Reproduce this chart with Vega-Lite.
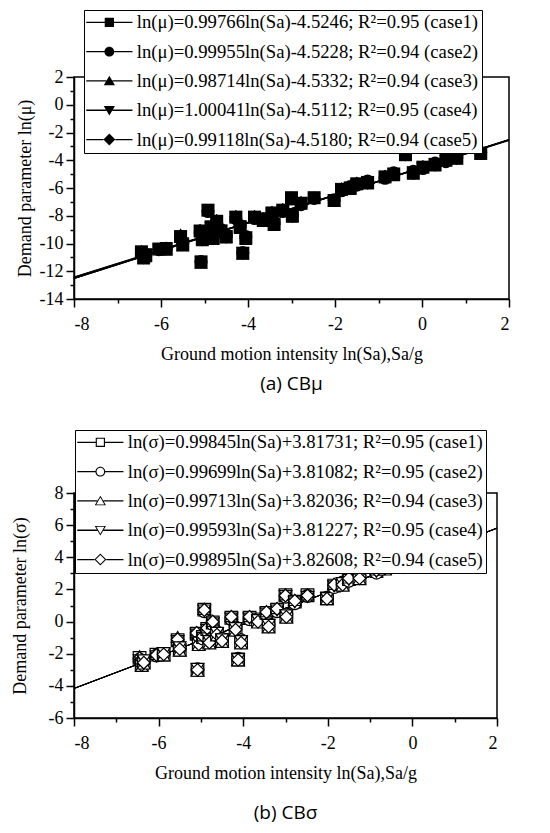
{
  "$schema": "https://vega.github.io/schema/vega-lite/v6.json",
  "background": "white",
  "padding": {"left": 10, "top": 8, "right": 5, "bottom": 5},
  "spacing": 33,
  "columns": 1,
  "align": "none",
  "config": {
    "view": {"stroke": "black", "strokeWidth": 1.5},
    "font": "Liberation Serif",
    "axis": {
      "domainColor": "black", "domainWidth": 1.5, "tickColor": "black", "tickWidth": 1.5,
      "labelColor": "black", "titleColor": "black", "labelFont": "Liberation Serif", "titleFont": "Liberation Serif",
      "labelFontSize": 18, "titleFontSize": 18, "titleFontWeight": "normal", "grid": false, "labelPadding": 3, "labelOverlap": false
    },
    "legend": {
      "labelFont": "Liberation Serif", "labelFontSize": 18.7, "labelColor": "black", "labelLimit": 600,
      "strokeColor": "black", "fillColor": "white", "padding": 3, "rowPadding": 9.3,
      "symbolSize": 196, "symbolOpacity": 1, "symbolStrokeWidth": 0, "symbolOffset": 13, "labelOffset": 18
    }
  },
  "datasets": {
    "fits": [
      {"case": "case1", "x": -8, "mu": -12.506, "sigma": -4.170},
      {"case": "case1", "x": 2, "mu": -2.529, "sigma": 5.814},
      {"case": "case2", "x": -8, "mu": -12.519, "sigma": -4.165},
      {"case": "case2", "x": 2, "mu": -2.524, "sigma": 5.805},
      {"case": "case3", "x": -8, "mu": -12.430, "sigma": -4.157},
      {"case": "case3", "x": 2, "mu": -2.559, "sigma": 5.815},
      {"case": "case4", "x": -8, "mu": -12.514, "sigma": -4.155},
      {"case": "case4", "x": 2, "mu": -2.510, "sigma": 5.804},
      {"case": "case5", "x": -8, "mu": -12.447, "sigma": -4.166},
      {"case": "case5", "x": 2, "mu": -2.536, "sigma": 5.824}
    ],
    "pts": [
      {"case":"case1","x":-6.45,"mu":-10.60,"sigma":-2.26},{"case":"case2","x":-6.45,"mu":-10.70,"sigma":-2.36},{"case":"case3","x":-6.45,"mu":-10.50,"sigma":-2.16},{"case":"case4","x":-6.45,"mu":-10.75,"sigma":-2.41},{"case":"case5","x":-6.45,"mu":-10.62,"sigma":-2.28},
      {"case":"case1","x":-6.40,"mu":-11.00,"sigma":-2.66},{"case":"case2","x":-6.40,"mu":-10.90,"sigma":-2.56},{"case":"case3","x":-6.40,"mu":-11.10,"sigma":-2.76},{"case":"case4","x":-6.40,"mu":-10.95,"sigma":-2.61},{"case":"case5","x":-6.40,"mu":-11.05,"sigma":-2.71},
      {"case":"case1","x":-6.35,"mu":-10.85,"sigma":-2.51},{"case":"case2","x":-6.35,"mu":-10.80,"sigma":-2.46},{"case":"case3","x":-6.35,"mu":-10.95,"sigma":-2.61},{"case":"case4","x":-6.35,"mu":-10.75,"sigma":-2.41},{"case":"case5","x":-6.35,"mu":-10.90,"sigma":-2.56},
      {"case":"case1","x":-6.05,"mu":-10.40,"sigma":-2.06},{"case":"case2","x":-6.05,"mu":-10.45,"sigma":-2.11},{"case":"case3","x":-6.05,"mu":-10.35,"sigma":-2.01},{"case":"case4","x":-6.05,"mu":-10.50,"sigma":-2.16},{"case":"case5","x":-6.05,"mu":-10.42,"sigma":-2.08},
      {"case":"case1","x":-5.88,"mu":-10.40,"sigma":-2.06},{"case":"case2","x":-5.88,"mu":-10.35,"sigma":-2.01},{"case":"case3","x":-5.88,"mu":-10.45,"sigma":-2.11},{"case":"case4","x":-5.88,"mu":-10.30,"sigma":-1.96},{"case":"case5","x":-5.88,"mu":-10.38,"sigma":-2.04},
      {"case":"case1","x":-5.55,"mu":-9.50,"sigma":-1.16},{"case":"case2","x":-5.55,"mu":-9.60,"sigma":-1.26},{"case":"case3","x":-5.55,"mu":-9.30,"sigma":-0.96},{"case":"case4","x":-5.55,"mu":-9.55,"sigma":-1.21},{"case":"case5","x":-5.55,"mu":-9.45,"sigma":-1.11},
      {"case":"case1","x":-5.50,"mu":-10.10,"sigma":-1.76},{"case":"case2","x":-5.50,"mu":-10.00,"sigma":-1.66},{"case":"case3","x":-5.50,"mu":-10.15,"sigma":-1.81},{"case":"case4","x":-5.50,"mu":-9.95,"sigma":-1.61},{"case":"case5","x":-5.50,"mu":-10.05,"sigma":-1.71},
      {"case":"case1","x":-5.08,"mu":-11.35,"sigma":-3.01},{"case":"case2","x":-5.08,"mu":-11.30,"sigma":-2.96},{"case":"case3","x":-5.08,"mu":-11.40,"sigma":-3.06},{"case":"case4","x":-5.08,"mu":-11.28,"sigma":-2.94},{"case":"case5","x":-5.08,"mu":-11.35,"sigma":-3.01},
      {"case":"case1","x":-5.10,"mu":-9.10,"sigma":-0.76},{"case":"case2","x":-5.10,"mu":-9.20,"sigma":-0.86},{"case":"case3","x":-5.10,"mu":-9.00,"sigma":-0.66},{"case":"case4","x":-5.10,"mu":-9.15,"sigma":-0.81},{"case":"case5","x":-5.10,"mu":-9.05,"sigma":-0.71},
      {"case":"case1","x":-5.05,"mu":-9.70,"sigma":-1.36},{"case":"case2","x":-5.05,"mu":-9.60,"sigma":-1.26},{"case":"case3","x":-5.05,"mu":-9.80,"sigma":-1.46},{"case":"case4","x":-5.05,"mu":-9.65,"sigma":-1.31},{"case":"case5","x":-5.05,"mu":-9.75,"sigma":-1.41},
      {"case":"case1","x":-4.92,"mu":-7.60,"sigma":0.74},{"case":"case2","x":-4.92,"mu":-7.70,"sigma":0.64},{"case":"case3","x":-4.92,"mu":-7.55,"sigma":0.79},{"case":"case4","x":-4.92,"mu":-7.65,"sigma":0.69},{"case":"case5","x":-4.92,"mu":-7.62,"sigma":0.72},
      {"case":"case1","x":-4.95,"mu":-9.30,"sigma":-0.96},{"case":"case2","x":-4.95,"mu":-9.40,"sigma":-1.06},{"case":"case3","x":-4.95,"mu":-9.20,"sigma":-0.86},{"case":"case4","x":-4.95,"mu":-9.35,"sigma":-1.01},{"case":"case5","x":-4.95,"mu":-9.25,"sigma":-0.91},
      {"case":"case1","x":-4.85,"mu":-8.80,"sigma":-0.46},{"case":"case2","x":-4.85,"mu":-8.90,"sigma":-0.56},{"case":"case3","x":-4.85,"mu":-8.70,"sigma":-0.36},{"case":"case4","x":-4.85,"mu":-8.85,"sigma":-0.51},{"case":"case5","x":-4.85,"mu":-8.75,"sigma":-0.41},
      {"case":"case1","x":-4.80,"mu":-9.60,"sigma":-1.26},{"case":"case2","x":-4.80,"mu":-9.50,"sigma":-1.16},{"case":"case3","x":-4.80,"mu":-9.70,"sigma":-1.36},{"case":"case4","x":-4.80,"mu":-9.55,"sigma":-1.21},{"case":"case5","x":-4.80,"mu":-9.65,"sigma":-1.31},
      {"case":"case1","x":-4.72,"mu":-8.40,"sigma":-0.06},{"case":"case2","x":-4.72,"mu":-8.50,"sigma":-0.16},{"case":"case3","x":-4.72,"mu":-8.30,"sigma":0.04},{"case":"case4","x":-4.72,"mu":-8.45,"sigma":-0.11},{"case":"case5","x":-4.72,"mu":-8.35,"sigma":-0.01},
      {"case":"case1","x":-4.62,"mu":-9.10,"sigma":-0.76},{"case":"case2","x":-4.62,"mu":-9.00,"sigma":-0.66},{"case":"case3","x":-4.62,"mu":-9.20,"sigma":-0.86},{"case":"case4","x":-4.62,"mu":-9.05,"sigma":-0.71},{"case":"case5","x":-4.62,"mu":-9.15,"sigma":-0.81},
      {"case":"case1","x":-4.50,"mu":-9.50,"sigma":-1.16},{"case":"case2","x":-4.50,"mu":-9.40,"sigma":-1.06},{"case":"case3","x":-4.50,"mu":-9.60,"sigma":-1.26},{"case":"case4","x":-4.50,"mu":-9.45,"sigma":-1.11},{"case":"case5","x":-4.50,"mu":-9.55,"sigma":-1.21},
      {"case":"case1","x":-4.28,"mu":-8.10,"sigma":0.24},{"case":"case2","x":-4.28,"mu":-8.20,"sigma":0.14},{"case":"case3","x":-4.28,"mu":-8.00,"sigma":0.34},{"case":"case4","x":-4.28,"mu":-8.15,"sigma":0.19},{"case":"case5","x":-4.28,"mu":-8.05,"sigma":0.29},
      {"case":"case1","x":-4.18,"mu":-8.80,"sigma":-0.46},{"case":"case2","x":-4.18,"mu":-8.70,"sigma":-0.36},{"case":"case3","x":-4.18,"mu":-8.90,"sigma":-0.56},{"case":"case4","x":-4.18,"mu":-8.75,"sigma":-0.41},{"case":"case5","x":-4.18,"mu":-8.85,"sigma":-0.51},
      {"case":"case1","x":-4.12,"mu":-10.70,"sigma":-2.36},{"case":"case2","x":-4.12,"mu":-10.65,"sigma":-2.31},{"case":"case3","x":-4.12,"mu":-10.75,"sigma":-2.41},{"case":"case4","x":-4.12,"mu":-10.68,"sigma":-2.34},{"case":"case5","x":-4.12,"mu":-10.72,"sigma":-2.38},
      {"case":"case1","x":-4.05,"mu":-9.60,"sigma":-1.26},{"case":"case2","x":-4.05,"mu":-9.50,"sigma":-1.16},{"case":"case3","x":-4.05,"mu":-9.70,"sigma":-1.36},{"case":"case4","x":-4.05,"mu":-9.55,"sigma":-1.21},{"case":"case5","x":-4.05,"mu":-9.65,"sigma":-1.31},
      {"case":"case1","x":-3.85,"mu":-8.10,"sigma":0.24},{"case":"case2","x":-3.85,"mu":-8.20,"sigma":0.14},{"case":"case3","x":-3.85,"mu":-8.00,"sigma":0.34},{"case":"case4","x":-3.85,"mu":-8.15,"sigma":0.19},{"case":"case5","x":-3.85,"mu":-8.05,"sigma":0.29},
      {"case":"case1","x":-3.65,"mu":-8.30,"sigma":0.04},{"case":"case2","x":-3.65,"mu":-8.20,"sigma":0.14},{"case":"case3","x":-3.65,"mu":-8.40,"sigma":-0.06},{"case":"case4","x":-3.65,"mu":-8.25,"sigma":0.09},{"case":"case5","x":-3.65,"mu":-8.35,"sigma":-0.01},
      {"case":"case1","x":-3.45,"mu":-7.80,"sigma":0.54},{"case":"case2","x":-3.45,"mu":-7.90,"sigma":0.44},{"case":"case3","x":-3.45,"mu":-7.70,"sigma":0.64},{"case":"case4","x":-3.45,"mu":-7.85,"sigma":0.49},{"case":"case5","x":-3.45,"mu":-7.75,"sigma":0.59},
      {"case":"case1","x":-3.40,"mu":-8.60,"sigma":-0.26},{"case":"case2","x":-3.40,"mu":-8.50,"sigma":-0.16},{"case":"case3","x":-3.40,"mu":-8.70,"sigma":-0.36},{"case":"case4","x":-3.40,"mu":-8.55,"sigma":-0.21},{"case":"case5","x":-3.40,"mu":-8.65,"sigma":-0.31},
      {"case":"case1","x":-3.20,"mu":-7.60,"sigma":0.74},{"case":"case2","x":-3.20,"mu":-7.70,"sigma":0.64},{"case":"case3","x":-3.20,"mu":-7.50,"sigma":0.84},{"case":"case4","x":-3.20,"mu":-7.65,"sigma":0.69},{"case":"case5","x":-3.20,"mu":-7.55,"sigma":0.79},
      {"case":"case1","x":-3.00,"mu":-6.70,"sigma":1.64},{"case":"case2","x":-3.00,"mu":-6.80,"sigma":1.54},{"case":"case3","x":-3.00,"mu":-6.65,"sigma":1.69},{"case":"case4","x":-3.00,"mu":-6.75,"sigma":1.59},{"case":"case5","x":-3.00,"mu":-6.72,"sigma":1.62},
      {"case":"case1","x":-2.98,"mu":-8.00,"sigma":0.34},{"case":"case2","x":-2.98,"mu":-7.90,"sigma":0.44},{"case":"case3","x":-2.98,"mu":-8.10,"sigma":0.24},{"case":"case4","x":-2.98,"mu":-7.95,"sigma":0.39},{"case":"case5","x":-2.98,"mu":-8.05,"sigma":0.29},
      {"case":"case1","x":-2.78,"mu":-7.10,"sigma":1.24},{"case":"case2","x":-2.78,"mu":-7.20,"sigma":1.14},{"case":"case3","x":-2.78,"mu":-7.00,"sigma":1.34},{"case":"case4","x":-2.78,"mu":-7.15,"sigma":1.19},{"case":"case5","x":-2.78,"mu":-7.05,"sigma":1.29},
      {"case":"case1","x":-2.48,"mu":-6.70,"sigma":1.64},{"case":"case2","x":-2.48,"mu":-6.75,"sigma":1.59},{"case":"case3","x":-2.48,"mu":-6.65,"sigma":1.69},{"case":"case4","x":-2.48,"mu":-6.80,"sigma":1.54},{"case":"case5","x":-2.48,"mu":-6.72,"sigma":1.62},
      {"case":"case1","x":-2.02,"mu":-6.90,"sigma":1.44},{"case":"case2","x":-2.02,"mu":-6.85,"sigma":1.49},{"case":"case3","x":-2.02,"mu":-6.95,"sigma":1.39},{"case":"case4","x":-2.02,"mu":-6.88,"sigma":1.46},{"case":"case5","x":-2.02,"mu":-6.92,"sigma":1.42},
      {"case":"case1","x":-1.85,"mu":-6.10,"sigma":2.24},{"case":"case2","x":-1.85,"mu":-6.20,"sigma":2.14},{"case":"case3","x":-1.85,"mu":-6.00,"sigma":2.34},{"case":"case4","x":-1.85,"mu":-6.15,"sigma":2.19},{"case":"case5","x":-1.85,"mu":-6.05,"sigma":2.29},
      {"case":"case1","x":-1.65,"mu":-6.00,"sigma":2.34},{"case":"case2","x":-1.65,"mu":-5.90,"sigma":2.44},{"case":"case3","x":-1.65,"mu":-6.10,"sigma":2.24},{"case":"case4","x":-1.65,"mu":-5.95,"sigma":2.39},{"case":"case5","x":-1.65,"mu":-6.05,"sigma":2.29},
      {"case":"case1","x":-1.50,"mu":-5.70,"sigma":2.64},{"case":"case2","x":-1.50,"mu":-5.80,"sigma":2.54},{"case":"case3","x":-1.50,"mu":-5.60,"sigma":2.74},{"case":"case4","x":-1.50,"mu":-5.75,"sigma":2.59},{"case":"case5","x":-1.50,"mu":-5.65,"sigma":2.69},
      {"case":"case1","x":-1.25,"mu":-5.60,"sigma":2.74},{"case":"case2","x":-1.25,"mu":-5.50,"sigma":2.84},{"case":"case3","x":-1.25,"mu":-5.70,"sigma":2.64},{"case":"case4","x":-1.25,"mu":-5.55,"sigma":2.79},{"case":"case5","x":-1.25,"mu":-5.65,"sigma":2.69},
      {"case":"case1","x":-0.85,"mu":-5.20,"sigma":3.14},{"case":"case2","x":-0.85,"mu":-5.30,"sigma":3.04},{"case":"case3","x":-0.85,"mu":-5.10,"sigma":3.24},{"case":"case4","x":-0.85,"mu":-5.25,"sigma":3.09},{"case":"case5","x":-0.85,"mu":-5.15,"sigma":3.19},
      {"case":"case1","x":-0.65,"mu":-5.00,"sigma":3.34},{"case":"case2","x":-0.65,"mu":-4.90,"sigma":3.44},{"case":"case3","x":-0.65,"mu":-5.10,"sigma":3.24},{"case":"case4","x":-0.65,"mu":-4.95,"sigma":3.39},{"case":"case5","x":-0.65,"mu":-5.05,"sigma":3.29},
      {"case":"case1","x":-0.38,"mu":-3.60,"sigma":4.74},{"case":"case2","x":-0.38,"mu":-3.55,"sigma":4.79},{"case":"case3","x":-0.38,"mu":-3.65,"sigma":4.69},{"case":"case4","x":-0.38,"mu":-3.58,"sigma":4.76},{"case":"case5","x":-0.38,"mu":-3.62,"sigma":4.72},
      {"case":"case1","x":-0.20,"mu":-4.90,"sigma":3.44},{"case":"case2","x":-0.20,"mu":-4.80,"sigma":3.54},{"case":"case3","x":-0.20,"mu":-5.00,"sigma":3.34},{"case":"case4","x":-0.20,"mu":-4.85,"sigma":3.49},{"case":"case5","x":-0.20,"mu":-4.95,"sigma":3.39},
      {"case":"case1","x":0.02,"mu":-4.50,"sigma":3.84},{"case":"case2","x":0.02,"mu":-4.60,"sigma":3.74},{"case":"case3","x":0.02,"mu":-4.40,"sigma":3.94},{"case":"case4","x":0.02,"mu":-4.55,"sigma":3.79},{"case":"case5","x":0.02,"mu":-4.45,"sigma":3.89},
      {"case":"case1","x":0.30,"mu":-4.30,"sigma":4.04},{"case":"case2","x":0.30,"mu":-4.20,"sigma":4.14},{"case":"case3","x":0.30,"mu":-4.40,"sigma":3.94},{"case":"case4","x":0.30,"mu":-4.25,"sigma":4.09},{"case":"case5","x":0.30,"mu":-4.35,"sigma":3.99},
      {"case":"case1","x":0.55,"mu":-4.00,"sigma":4.34},{"case":"case2","x":0.55,"mu":-4.10,"sigma":4.24},{"case":"case3","x":0.55,"mu":-3.90,"sigma":4.44},{"case":"case4","x":0.55,"mu":-4.05,"sigma":4.29},{"case":"case5","x":0.55,"mu":-3.95,"sigma":4.39},
      {"case":"case1","x":0.80,"mu":-3.85,"sigma":4.49},{"case":"case2","x":0.80,"mu":-3.80,"sigma":4.54},{"case":"case3","x":0.80,"mu":-3.90,"sigma":4.44},{"case":"case4","x":0.80,"mu":-3.82,"sigma":4.52},{"case":"case5","x":0.80,"mu":-3.88,"sigma":4.46},
      {"case":"case1","x":1.35,"mu":-3.50,"sigma":4.84},{"case":"case2","x":1.35,"mu":-3.45,"sigma":4.89},{"case":"case3","x":1.35,"mu":-3.55,"sigma":4.79},{"case":"case4","x":1.35,"mu":-3.48,"sigma":4.86},{"case":"case5","x":1.35,"mu":-3.52,"sigma":4.82}
    ]
  },
  "concat": [
    {
      "width": 435,
      "height": 222,
      "title": {"text": "(a) CBμ", "orient": "bottom", "anchor": "middle", "font": "Open Sans", "fontSize": 19, "fontWeight": "normal", "color": "black", "offset": 12},
      "layer": [
        {
          "data": {"name": "fits"},
          "mark": {"type": "line", "color": "black", "strokeWidth": 1.3},
          "encoding": {
            "x": {"field": "x", "type": "quantitative", "scale": {"domain": [-8, 2], "nice": false},
              "axis": {"values": [-8,-6,-4,-2,0,2], "labelExpr": "'' + datum.value", "labelPadding": 8, "labelOverlap": false,
                "tickSize": 8, "title": "Ground motion intensity ln(Sa),Sa/g", "titlePadding": 12}},
            "y": {"field": "mu", "type": "quantitative", "scale": {"domain": [-14, 2], "nice": false},
              "axis": {"values": [-14,-12,-10,-8,-6,-4,-2,0,2], "labelExpr": "'' + datum.value", "labelPadding": 3, "labelOverlap": false,
                "tickSize": 8, "title": "Demand parameter ln(μ)", "titlePadding": 5}},
            "detail": {"field": "case", "type": "nominal"}
          }
        },
        {
          "data": {"name": "pts"},
          "mark": {"type": "point", "filled": true, "color": "black", "size": 170, "opacity": 1},
          "encoding": {
            "x": {"field": "x", "type": "quantitative",
              "axis": {"orient": "bottom", "values": [-7,-5,-3,-1,1], "labels": false, "domain": false, "title": null, "tickSize": 4}},
            "y": {"field": "mu", "type": "quantitative",
              "axis": {"orient": "left", "values": [-13,-11,-9,-7,-5,-3,-1,1], "labels": false, "domain": false, "title": null, "tickSize": 4}},
            "shape": {"field": "case", "type": "nominal",
              "scale": {"domain": ["case1","case2","case3","case4","case5"], "range": ["square","circle","triangle-up","triangle-down","diamond"]},
              "legend": null}
          }
        },
        {
          "data": {"values": []},
          "mark": {"type": "point", "filled": true, "fill": "black", "opacity": 1},
          "encoding": {
            "x": {"field": "x", "type": "quantitative", "axis": null},
            "y": {"field": "mu", "type": "quantitative", "axis": null},
            "shape": {"field": "lm", "type": "nominal",
              "scale": {"domain": [
                "ln(μ)=0.99766ln(Sa)-4.5246; R²=0.95 (case1)",
                "ln(μ)=0.99955ln(Sa)-4.5228; R²=0.94 (case2)",
                "ln(μ)=0.98714ln(Sa)-4.5332; R²=0.94 (case3)",
                "ln(μ)=1.00041ln(Sa)-4.5112; R²=0.95 (case4)",
                "ln(μ)=0.99118ln(Sa)-4.5180; R²=0.94 (case5)"],
                "range": [
                "M-3.3,-0.09H-0.66V0.09H-3.3ZM0.66,-0.09H3.3V0.09H0.66ZM-0.66,-0.66H0.66V0.66H-0.66Z",
                "M-3.3,-0.09H-0.7V0.09H-3.3ZM0.7,-0.09H3.3V0.09H0.7ZM-0.7,0A0.7,0.7,0,1,1,0.7,0A0.7,0.7,0,1,1,-0.7,0Z",
                "M-3.3,-0.09H-0.44V0.09H-3.3ZM0.44,-0.09H3.3V0.09H0.44ZM-0.8,0.62L0,-0.75L0.8,0.62Z",
                "M-3.3,-0.09H-0.44V0.09H-3.3ZM0.44,-0.09H3.3V0.09H0.44ZM-0.8,-0.62L0.8,-0.62L0,0.75Z",
                "M-3.3,-0.09H-0.85V0.09H-3.3ZM0.85,-0.09H3.3V0.09H0.85ZM0,-0.85L0.85,0L0,0.85L-0.85,0Z"]},
              "legend": {"orient": "none", "legendX": 10, "legendY": -67, "title": null, "symbolFillColor": "black"}}
          }
        }
      ],
      "resolve": {"scale": {"shape": "independent"}, "axis": {"x": "independent", "y": "independent"}}
    },
    {
      "width": 423,
      "height": 225,
      "title": {"text": "(b) CBσ", "orient": "bottom", "anchor": "middle", "font": "Open Sans", "fontSize": 19, "fontWeight": "normal", "color": "black", "offset": 22},
      "layer": [
        {
          "data": {"name": "fits"},
          "mark": {"type": "line", "color": "black", "strokeWidth": 1},
          "encoding": {
            "x": {"field": "x", "type": "quantitative", "scale": {"domain": [-8, 2], "nice": false},
              "axis": {"values": [-8,-6,-4,-2,0,2], "labelExpr": "'' + datum.value", "labelPadding": 8, "labelOverlap": false,
                "tickSize": 8, "title": "Ground motion intensity ln(Sa),Sa/g", "titlePadding": 12}},
            "y": {"field": "sigma", "type": "quantitative", "scale": {"domain": [-6, 8], "nice": false},
              "axis": {"values": [-6,-4,-2,0,2,4,6,8], "labelExpr": "'' + datum.value", "labelPadding": 3, "labelOverlap": false,
                "tickSize": 8, "minExtent": 40, "title": "Demand parameter ln(σ)", "titlePadding": 5}},
            "detail": {"field": "case", "type": "nominal"}
          }
        },
        {
          "data": {"name": "pts"},
          "mark": {"type": "point", "filled": true, "fill": "white", "stroke": "black", "strokeWidth": 1.2, "size": 160, "opacity": 1},
          "encoding": {
            "x": {"field": "x", "type": "quantitative",
              "axis": {"orient": "bottom", "values": [-7,-5,-3,-1,1], "labels": false, "domain": false, "title": null, "tickSize": 4}},
            "y": {"field": "sigma", "type": "quantitative",
              "axis": {"orient": "left", "values": [-5,-3,-1,1,3,5,7], "labels": false, "domain": false, "title": null, "tickSize": 4}},
            "shape": {"field": "case", "type": "nominal",
              "scale": {"domain": ["case1","case2","case3","case4","case5"], "range": ["square","circle","triangle-up","triangle-down","diamond"]},
              "legend": null}
          }
        },
        {
          "data": {"values": []},
          "mark": {"type": "point", "filled": true, "fill": "black", "opacity": 1},
          "encoding": {
            "x": {"field": "x", "type": "quantitative", "axis": null},
            "y": {"field": "sigma", "type": "quantitative", "axis": null},
            "shape": {"field": "ls", "type": "nominal",
              "scale": {"domain": [
                "ln(σ)=0.99845ln(Sa)+3.81731; R²=0.95 (case1)",
                "ln(σ)=0.99699ln(Sa)+3.81082; R²=0.95 (case2)",
                "ln(σ)=0.99713ln(Sa)+3.82036; R²=0.94 (case3)",
                "ln(σ)=0.99593ln(Sa)+3.81227; R²=0.95 (case4)",
                "ln(σ)=0.99895ln(Sa)+3.82608; R²=0.94 (case5)"],
                "range": [
                "M-3.3,-0.09H-0.66V0.09H-3.3ZM0.66,-0.09H3.3V0.09H0.66ZM-0.66,-0.66H0.66V0.66H-0.66ZM-0.5,-0.5V0.5H0.5V-0.5Z",
                "M-3.3,-0.09H-0.7V0.09H-3.3ZM0.7,-0.09H3.3V0.09H0.7ZM-0.7,0A0.7,0.7,0,1,1,0.7,0A0.7,0.7,0,1,1,-0.7,0ZM-0.54,0A0.54,0.54,0,1,0,0.54,0A0.54,0.54,0,1,0,-0.54,0Z",
                "M-3.3,-0.09H-0.44V0.09H-3.3ZM0.44,-0.09H3.3V0.09H0.44ZM-0.8,0.62L0,-0.75L0.8,0.62ZM0.576,0.492L0,-0.494L-0.576,0.492Z",
                "M-3.3,-0.09H-0.44V0.09H-3.3ZM0.44,-0.09H3.3V0.09H0.44ZM-0.8,-0.62L0.8,-0.62L0,0.75ZM0,0.494L0.576,-0.492L-0.576,-0.492Z",
                "M-3.3,-0.09H-0.85V0.09H-3.3ZM0.85,-0.09H3.3V0.09H0.85ZM0,-0.85L0.85,0L0,0.85L-0.85,0ZM0,-0.64L-0.64,0L0,0.64L0.64,0Z"]},
              "legend": {"orient": "none", "legendX": 1, "legendY": -63, "title": null, "symbolFillColor": "black"}}
          }
        }
      ],
      "resolve": {"scale": {"shape": "independent"}, "axis": {"x": "independent", "y": "independent"}}
    }
  ]
}
